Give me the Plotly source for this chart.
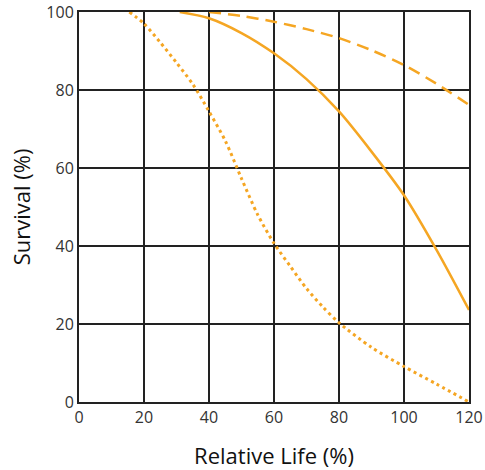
"""Survival vs relative life curves."""

import plotly.graph_objects as go

ORANGE = "#F5A623"
GRID = "#222222"

# solid curve
solid_x = [31, 40, 50, 60, 70, 80, 90, 100, 110, 120]
solid_y = [100, 98.4, 94.6, 89.4, 82.8, 74.5, 64.2, 53.0, 39.0, 23.6]

# dashed curve
dashed_x = [40, 50, 60, 70, 80, 90, 100, 110, 120]
dashed_y = [100, 99.0, 97.5, 95.6, 93.3, 90.2, 86.4, 81.6, 76.2]

# dotted curve
dotted_x = [15.5, 20, 25, 30, 35, 40, 45, 50, 55, 60, 65, 70, 75, 80, 90, 100, 110, 120]
dotted_y = [100, 97.0, 92.2, 87.0, 81.5, 74.5, 67.0, 57.3, 48.0, 40.7, 34.8, 29.1, 24.4, 20.3, 14.0, 9.1, 4.6, 0]

x_ticks = [0, 20, 40, 60, 80, 100, 120]
y_ticks = [0, 20, 40, 60, 80, 100]

fig = go.Figure()
for xs, ys, dash, width in (
    (dotted_x, dotted_y, "3px,3.5px", 3),
    (dashed_x, dashed_y, "12px,7px", 2.5),
    (solid_x, solid_y, "solid", 2.5),
):
    fig.add_trace(
        go.Scatter(
            x=xs,
            y=ys,
            mode="lines",
            line=dict(color=ORANGE, width=width, dash=dash, shape="spline", smoothing=0.8),
            showlegend=False,
        )
    )

axis_common = dict(
    showgrid=True,
    gridcolor=GRID,
    gridwidth=1.5,
    showline=True,
    linecolor=GRID,
    linewidth=2,
    mirror=True,
    zeroline=False,
    ticks="",
    automargin=False,
    ticklabeloverflow="allow",
    tickfont=dict(size=16, color="#333333"),
    title_font=dict(size=22, color="#111111"),
)

fig.update_xaxes(
    range=[0, 120],
    tickvals=x_ticks,
    title_text="Relative Life (%)",
    title_standoff=22,
    **axis_common,
)
fig.update_yaxes(
    range=[0, 100],
    tickvals=y_ticks,
    title_text="Survival (%)",
    title_standoff=10,
    **axis_common,
)

fig.update_layout(
    width=485,
    height=470,
    margin=dict(l=79, r=16, t=12, b=68),
    paper_bgcolor="white",
    plot_bgcolor="white",
    font=dict(family="Open Sans, sans-serif"),
)

# drop the page's default body margin so the figure fills the window
fig.write_html(
    "out.html",
    config={"displayModeBar": False},
    post_script="document.body.style.margin = '0';",
)
